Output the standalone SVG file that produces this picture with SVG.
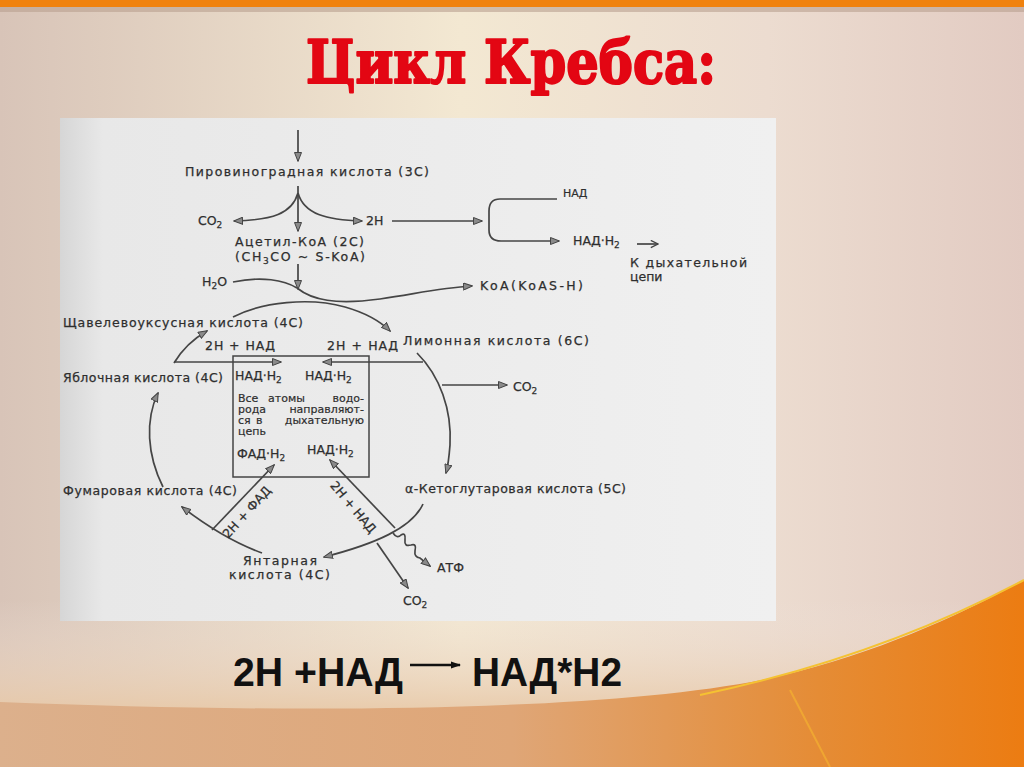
<svg xmlns="http://www.w3.org/2000/svg" width="1024" height="767" viewBox="0 0 1024 767">
<defs>
<linearGradient id="bg" x1="0" y1="0" x2="1" y2="0">
<stop offset="0" stop-color="#d8c4b8"/>
<stop offset="0.45" stop-color="#f3e8d2"/>
<stop offset="0.75" stop-color="#ecdcd0"/>
<stop offset="1" stop-color="#e2cbc2"/>
</linearGradient>
<linearGradient id="low" x1="0" y1="0" x2="1" y2="0">
<stop offset="0" stop-color="#dcb08c"/>
<stop offset="0.5" stop-color="#dfa677"/>
<stop offset="0.8" stop-color="#e58c35"/>
<stop offset="1" stop-color="#ec7c12"/>
</linearGradient>
<linearGradient id="band" x1="0" y1="0" x2="0" y2="1">
<stop offset="0" stop-color="#efe3dc" stop-opacity="0"/>
<stop offset="1" stop-color="#e8c9a8" stop-opacity="0.9"/>
</linearGradient>
<linearGradient id="panel" x1="0" y1="0" x2="1" y2="0">
<stop offset="0" stop-color="#d6d6d6"/>
<stop offset="0.06" stop-color="#e8e8e8"/>
<stop offset="1" stop-color="#f0f0f0"/>
</linearGradient>
<marker id="ah" viewBox="0 0 10 8" refX="9" refY="4" markerWidth="10" markerHeight="8" markerUnits="userSpaceOnUse" orient="auto">
<path d="M0.5,0.5 L9.5,4 L0.5,7.5 Z" fill="#8a8a8a" stroke="#444" stroke-width="1"/>
</marker>
<marker id="ov" viewBox="0 0 10 10" refX="9" refY="5" markerWidth="9" markerHeight="9" markerUnits="userSpaceOnUse" orient="auto">
<path d="M1,1 L9,5 L1,9" fill="none" stroke="#444" stroke-width="1.5"/>
</marker>
<marker id="bk" viewBox="0 0 10 10" refX="9" refY="5" markerWidth="10" markerHeight="10" markerUnits="userSpaceOnUse" orient="auto">
<path d="M0,1.5 L10,5 L0,8.5 Z" fill="#111"/>
</marker>
<style>
.t{font-family:"DejaVu Sans","Liberation Sans",sans-serif;font-size:12.5px;fill:#2e2e2e;stroke:#2e2e2e;stroke-width:0.25}
.s{font-family:"DejaVu Sans","Liberation Sans",sans-serif;font-size:11px;fill:#2e2e2e;stroke:#2e2e2e;stroke-width:0.2}
.c{fill:none;stroke:#454545;stroke-width:1.7}
.a{marker-end:url(#ah)}
.sub{font-size:9px}
</style>
</defs>

<g id="background">
<rect width="1024" height="767" fill="url(#bg)"/>
<rect y="600" width="1024" height="110" fill="url(#band)"/>
<path d="M0,702 C300,714 620,712 780,676 C880,652 960,615 1024,580 L1024,767 L0,767 Z" fill="url(#low)"/>
<path d="M700,695 C820,670 930,630 1024,580" fill="none" stroke="#f5c232" stroke-width="2"/>
<path d="M790,690 L830,767" fill="none" stroke="#f3b030" stroke-width="2" opacity="0.7"/>
<rect width="1024" height="7" fill="#f0820e"/>
<rect y="7" width="1024" height="5" fill="#b9a090" opacity="0.6"/>
</g>

<g id="title">
<text x="306" y="83" font-family="'DejaVu Serif','Liberation Serif',serif" font-weight="bold" font-size="60" fill="#e30613" stroke="#e30613" stroke-width="2.2" stroke-linejoin="round" textLength="410" lengthAdjust="spacingAndGlyphs">Цикл Кребса:</text>
</g>

<rect id="panel" x="60" y="118" width="716" height="503" fill="url(#panel)"/>

<g id="connectors">
<path class="c a" d="M298,130 L298,161"/>
<path class="c a" d="M298,186 L298,231"/>
<path class="c a" d="M298,193 C292,214 272,220 234,221"/>
<path class="c a" d="M298,193 C304,214 326,220 362,221"/>
<path class="c a" d="M392,221 L482,221"/>
<path class="c a" d="M557,199 L500,199 Q489,199 489,211 L489,230 Q489,241 501,241 L559,241"/>
<path class="c" d="M637,244 L658,244" marker-end="url(#ov)"/>
<path class="c a" d="M298,264 L298,289"/>
<path class="c" d="M233,282 C262,276 284,280 297,288"/>
<path class="c a" d="M297,288 C312,300 335,305 380,299 C420,293 440,288 472,286"/>
<path class="c a" d="M233,317 C262,302 310,297 345,307 C366,313 380,321 390,331"/>
<path class="c a" d="M174,363 Q186,343 207,331"/>
<path class="c a" d="M174,362 L281,362"/>
<path class="c a" d="M423,362 L323,362"/>
<path class="c a" d="M417,353 C440,376 452,410 450,445 C449,458 448,466 446,473"/>
<path class="c a" d="M442,385 L507,385"/>
<path class="c a" d="M163,487 C147,455 145,420 158,393"/>
<path class="c a" d="M212,530 L274,465"/>
<path class="c a" d="M395,528 L330,460"/>
<path class="c a" d="M423,504 C412,528 375,544 324,557"/>
<path class="c a" d="M262,553 C240,545 212,530 182,507"/>
<path class="c a" d="M393,533 q4,6 8,2 q5,-3 4,5 q-1,7 6,5 q6,-2 4,6 q-1,6 5,7 L430,566"/>
<path class="c a" d="M377,543 L408,588"/>
</g>

<g id="node-pyruvate"><text class="t" x="185" y="176" textLength="244" lengthAdjust="spacing">Пировиноградная кислота (3С)</text></g>
<g id="node-co2-top"><text class="t" x="198" y="225">CO<tspan class="sub" dy="3">2</tspan></text></g>
<g id="node-2h"><text class="t" x="366" y="225">2H</text></g>
<g id="node-nad"><text class="s" x="563" y="197">НАД</text></g>
<g id="node-nadh-top"><text class="t" x="573" y="245">НАД·Н<tspan class="sub" dy="3">2</tspan></text></g>
<g id="node-resp-chain"><text class="t" x="630" y="267" textLength="117" lengthAdjust="spacing">К дыхательной</text><text class="t" x="630" y="281">цепи</text></g>
<g id="node-acetyl"><text class="t" x="235" y="246" textLength="129" lengthAdjust="spacing">Ацетил-КоА (2С)</text><text class="t" x="235" y="261" textLength="130" lengthAdjust="spacing">(CH<tspan class="sub" dy="3">3</tspan><tspan dy="-3">CO ~ S-KoA)</tspan></text></g>
<g id="node-h2o"><text class="t" x="202" y="286">H<tspan class="sub" dy="3">2</tspan><tspan dy="-3">O</tspan></text></g>
<g id="node-koa"><text class="t" x="480" y="290" textLength="103" lengthAdjust="spacing">KoA(KoAS-H)</text></g>
<g id="node-oxaloacetate"><text class="t" x="63" y="327" textLength="240" lengthAdjust="spacing">Щавелевоуксусная кислота (4С)</text></g>
<g id="node-2h-nad-left"><text class="t" x="205" y="350" textLength="70" lengthAdjust="spacing">2Н + НАД</text></g>
<g id="node-2h-nad-right"><text class="t" x="327" y="350" textLength="71" lengthAdjust="spacing">2Н + НАД</text></g>
<g id="node-citrate"><text class="t" x="403" y="345" textLength="186" lengthAdjust="spacing">Лимонная кислота (6С)</text></g>
<g id="node-malate"><text class="t" x="63" y="382" textLength="160" lengthAdjust="spacing">Яблочная кислота (4С)</text></g>

<g id="node-box">
<rect x="233" y="356" width="136" height="121" fill="none" stroke="#444" stroke-width="1.5"/>
<text class="t" x="235" y="380">НАД·Н<tspan class="sub" dy="3">2</tspan></text>
<text class="t" x="305" y="380">НАД·Н<tspan class="sub" dy="3">2</tspan></text>
<text class="s" y="402"><tspan x="238">Все</tspan><tspan x="268">атомы</tspan><tspan x="364" text-anchor="end">водо-</tspan></text>
<text class="s" y="413"><tspan x="238">рода</tspan><tspan x="364" text-anchor="end">направляют-</tspan></text>
<text class="s" y="424"><tspan x="238">ся</tspan><tspan x="256">в</tspan><tspan x="364" text-anchor="end">дыхательную</tspan></text>
<text class="s" x="238" y="435">цепь</text>
<text class="t" x="237" y="458">ФАД·Н<tspan class="sub" dy="3">2</tspan></text>
<text class="t" x="307" y="454">НАД·Н<tspan class="sub" dy="3">2</tspan></text>
</g>

<g id="node-fumarate"><text class="t" x="63" y="495" textLength="174" lengthAdjust="spacing">Фумаровая кислота (4С)</text></g>
<g id="node-ketoglutarate"><text class="t" x="405" y="493" textLength="221" lengthAdjust="spacing">α-Кетоглутаровая кислота (5С)</text></g>
<g id="node-co2-right"><text class="t" x="513" y="391">CO<tspan class="sub" dy="3">2</tspan></text></g>
<g id="node-succinate"><text class="t" x="243" y="565" textLength="74" lengthAdjust="spacing">Янтарная</text><text class="t" x="229" y="579" textLength="101" lengthAdjust="spacing">кислота (4С)</text></g>
<g id="node-atp"><text class="t" x="437" y="572">АТФ</text></g>
<g id="node-co2-bottom"><text class="t" x="403" y="605">CO<tspan class="sub" dy="3">2</tspan></text></g>
<g id="label-2h-fad"><text class="t" x="250" y="515" text-anchor="middle" transform="rotate(-48 250 515)">2Н + ФАД</text></g>
<g id="label-2h-nad-diag"><text class="t" x="350" y="510" text-anchor="middle" transform="rotate(50 350 510)">2Н + НАД</text></g>

<g id="formula">
<text x="233" y="686" font-family="'Liberation Sans','Arial',sans-serif" font-weight="bold" font-size="40" fill="#111" textLength="170" lengthAdjust="spacingAndGlyphs">2H +НАД</text>
<path d="M410,665 L460,665" stroke="#111" stroke-width="2.5" fill="none" marker-end="url(#bk)"/>
<text x="472" y="686" font-family="'Liberation Sans','Arial',sans-serif" font-weight="bold" font-size="40" fill="#111" textLength="150" lengthAdjust="spacingAndGlyphs">НАД*H2</text>
</g>
</svg>
